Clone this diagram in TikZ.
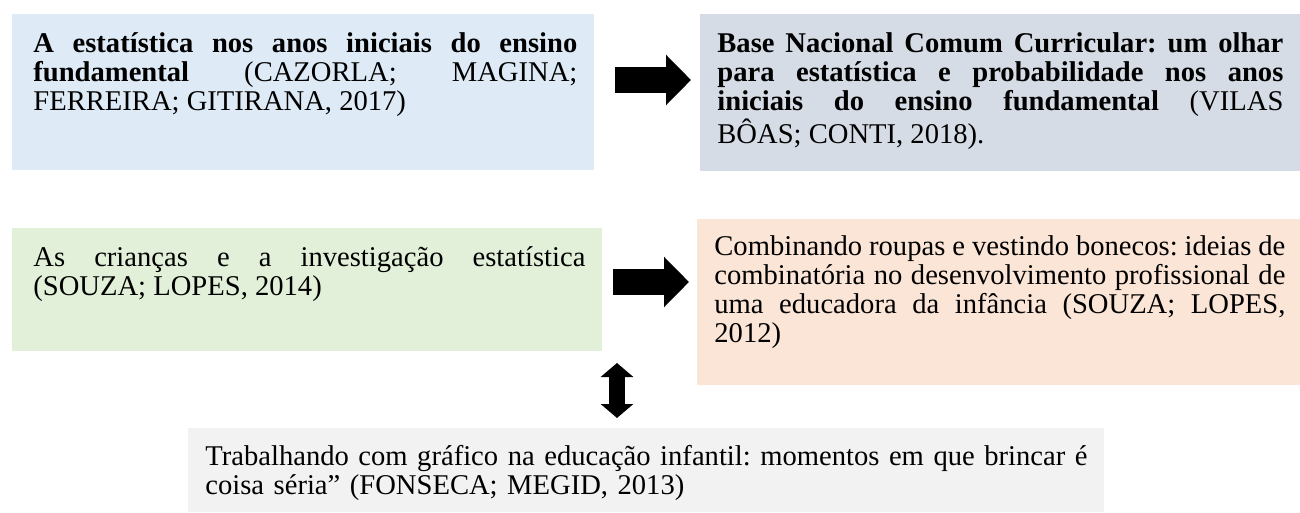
\documentclass[tikz,border=0pt]{standalone}
\usepackage{fontspec}
\setmainfont{Liberation Serif}
\usetikzlibrary{positioning,arrows.meta}
\definecolor{bluebox}{HTML}{DEEBF7}
\definecolor{slatebox}{HTML}{D6DCE5}
\definecolor{greenbox}{HTML}{E2F0D9}
\definecolor{peachbox}{HTML}{FBE5D6}
\definecolor{greybox}{HTML}{F2F2F2}
\tolerance=10000 \hbadness=10000 \hyphenpenalty=10000
\frenchspacing

\begin{document}
\begin{tikzpicture}[x=0.5pt,y=-0.5pt,
    box/.style={anchor=north west, inner sep=0pt, outer sep=0pt},
    txt/.style={anchor=base west, inner sep=0pt, align=justify,
        font=\fontsize{14.3pt}{14.5pt}\selectfont},
    bigarrow/.style={line width=13pt, -{Triangle[width=24.5pt,length=12.5pt]}},
    dblarrow/.style={line width=8pt,
        {Triangle[width=16pt,length=7pt]}-{Triangle[width=16pt,length=7pt]}}]
    \useasboundingbox (0,0) rectangle (1300,513);

    %% Boxes
    \node[box, fill=bluebox, minimum width=291pt, minimum height=78pt] (b1) at (12,14) {};
    \node[box, fill=slatebox, minimum width=300pt, minimum height=78.5pt] (b2) at (700,14) {};
    \node[box, fill=greenbox, minimum width=295pt, minimum height=61.5pt] (b3) at (12,228) {};
    \node[box, fill=peachbox, minimum width=301.5pt, minimum height=83pt] (b4) at (697,219) {};
    \node[box, fill=greybox, minimum width=458pt, minimum height=42pt] (b5) at (188,428) {};

    %% Texts
    \node[txt, text width=272pt] (t1) at (33,53)
    {\textbf{A estatística nos anos iniciais do ensino\linebreak
    fundamental} (CAZORLA; MAGINA;\linebreak FERREIRA; GITIRANA, 2017)};
    \node[txt, text width=283pt] (t2) at (717,53)
    {\textbf{Base Nacional Comum Curricular: um olhar\linebreak
    para estatística e probabilidade nos anos\linebreak
    iniciais do ensino fundamental} (VILAS\linebreak BÔAS; CONTI, 2018).};
    \node[txt, text width=276pt] (t3) at (33,266)
    {As crianças e a investigação estatística\linebreak (SOUZA; LOPES, 2014)};
    \node[txt, text width=285.5pt] (t4) at (714,256)
    {Combinando roupas e vestindo bonecos: ideias de\linebreak
    combinatória no desenvolvimento profissional de\linebreak
    uma educadora da infância (SOUZA; LOPES,\linebreak 2012)};
    \node[txt, text width=470pt, align=left] (t5) at (205,465)
    {Trabalhando com gráfico na educação infantil: momentos em que brincar é\\
    coisa séria” (FONSECA; MEGID, 2013)};

    %% Arrows
    \coordinate[above=6pt of b1.east] (a1);
    \coordinate[above=3.75pt of b3.east] (a2);
    \coordinate[right=7.5pt of b3.south east] (a3);
    \draw[bigarrow, shorten <=10.5pt, shorten >=4.5pt] (a1) -- (a1 -| b2.west);
    \draw[bigarrow, shorten <=5.5pt, shorten >=4pt] (a2) -- (a2 -| b4.west);
    \draw[dblarrow, shorten <=6pt, shorten >=5pt] (a3) -- (a3 |- b5.north);
\end{tikzpicture}
\end{document}
